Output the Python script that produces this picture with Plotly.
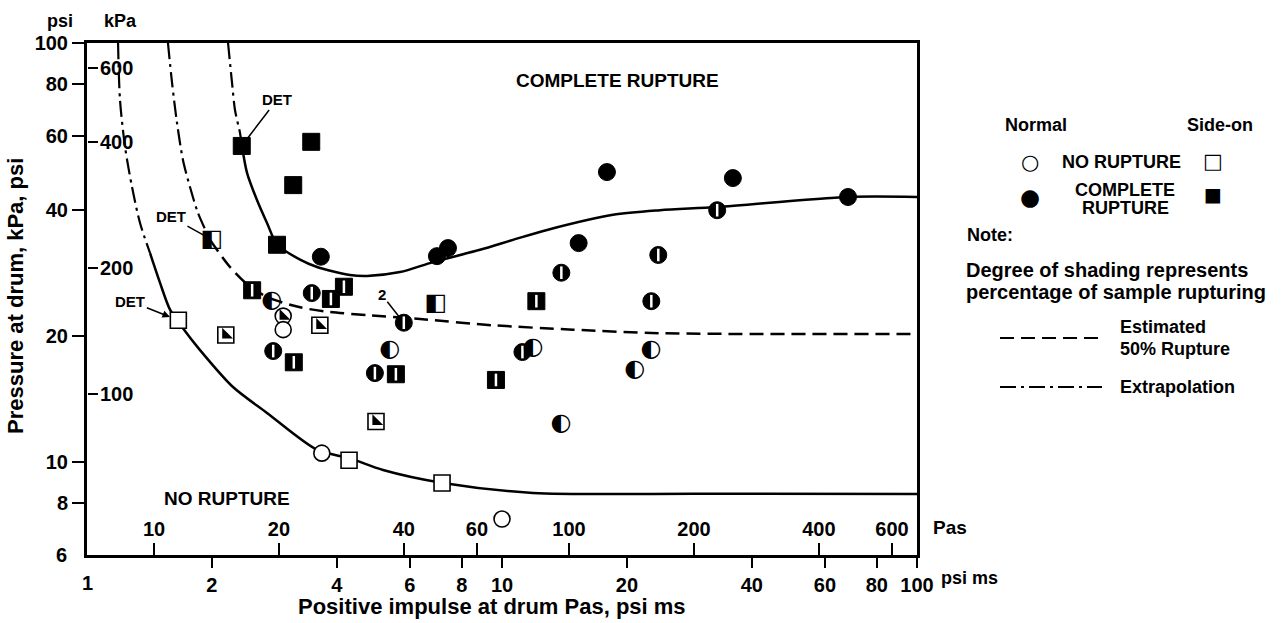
import numpy as np
import plotly.graph_objects as go

# ---------------- data ----------------
# Normal orientation samples (circles): impulse [psi ms], pressure [psi], fraction ruptured
normal_impulse = [3.66, 6.97, 7.41, 17.9, 36.0, 68.2, 33.0, 15.3, 23.8, 13.9, 22.9, 22.9, 20.9,
                  13.9, 11.2, 11.9, 5.8, 5.37, 4.94, 3.48, 2.79, 2.97, 2.97, 2.81, 3.68, 10.0]
normal_pressure = [30.9, 31.0, 32.4, 49.2, 47.6, 42.9, 39.9, 33.3, 31.2, 28.3, 24.2, 18.5, 16.6,
                   12.3, 18.3, 18.7, 21.5, 18.5, 16.3, 25.3, 24.2, 22.3, 20.7, 18.4, 10.5, 7.31]
normal_shading = [1, 1, 1, 1, 1, 1, 0.75, 1, 0.75, 0.75, 0.75, 0.5, 0.5,
                  0.5, 0.75, 0.5, 0.75, 0.5, 0.75, 0.75, 0.5, 0.25, 0, 0.75, 0, 0]

# Side-on orientation samples (squares)
side_impulse = [2.36, 3.47, 3.14, 2.87, 2.00, 2.50, 4.16, 3.87, 6.93, 12.1, 3.64, 2.16,
                3.15, 5.55, 9.67, 4.97, 1.66, 4.28, 7.17]
side_pressure = [56.8, 58.1, 45.8, 33.0, 33.9, 25.7, 26.2, 24.5, 23.8, 24.2, 21.2, 20.1,
                 17.3, 16.2, 15.7, 12.5, 21.8, 10.1, 8.91]
side_shading = [1, 1, 1, 1, 0.5, 0.75, 0.75, 0.75, 0.5, 0.75, 0.25, 0.25,
                0.75, 0.75, 0.75, 0.25, 0, 0, 0]

# Boundary curves
no_rupture_extrap_x = [1.188, 1.201, 1.235, 1.284, 1.342, 1.419]
no_rupture_extrap_y = [100, 73.1, 56.5, 45.3, 37.2, 31.5]
no_rupture_x = [1.419, 1.499, 1.585, 1.694, 1.872, 2.248, 2.715, 3.583, 4.302, 5.168, 7.208, 11.88, 30.0, 100]
no_rupture_y = [31.5, 26.8, 23.1, 21.0, 18.5, 15.1, 13.1, 10.7, 10.2, 9.57, 8.91, 8.44, 8.40, 8.39]

half_extrap_x = [1.567, 1.603, 1.648, 1.703, 1.771, 1.851, 1.979]
half_extrap_y = [100, 80.3, 64.4, 52.6, 45.3, 39.3, 33.9]
half_x = [1.979, 2.211, 2.471, 2.761, 3.262, 3.850, 4.808, 6.345, 9.513, 14.83, 24.03, 100]
half_y = [33.9, 29.2, 26.2, 24.6, 23.4, 22.8, 22.4, 21.95, 21.2, 20.7, 20.3, 20.2]

complete_extrap_x = [2.187, 2.236, 2.273, 2.337, 2.363]
complete_extrap_y = [100, 80.3, 69.2, 61.0, 56.8]
complete_x = [2.363, 2.430, 2.568, 2.715, 2.870, 3.262, 3.583, 4.302, 4.728, 5.678, 6.82, 8.85,
              10.63, 12.84, 18.51, 24.03, 32.97, 67.8, 100]
complete_y = [56.8, 49.0, 42.2, 37.2, 33.1, 30.4, 29.2, 27.95, 27.8, 28.4, 30.0, 32.1,
              33.9, 35.8, 38.9, 39.9, 40.6, 42.9, 42.9]

# Axis ticks
psi_ms_ticks = [1, 2, 4, 6, 8, 10, 20, 40, 60, 80, 100]
pas_ticks = [10, 20, 40, 60, 100, 200, 400, 600]
psi_ticks = [6, 8, 10, 20, 40, 60, 80, 100]
kpa_ticks = [100, 200, 400, 600]
KPA_PER_PSI = 6.894757

# ---------------- figure ----------------
W, H = 1282, 623
L, R, T, B = 87, 917, 43, 555


def paper(px, py):
    return (px - L) / (R - L), (B - py) / (B - T)


circle_glyph = {0.5: "\u25D0"}
square_glyph = {0.5: "\u25E7"}
GLYPH_FONT = "DejaVu Sans"

fig = go.Figure()

solid = dict(color="black", width=2.5)
dashed = dict(color="black", width=2.5, dash="14px,7px")
dashdot = dict(color="black", width=2.2, dash="16px,5px,3px,5px")

for xs, ys, ln in [(no_rupture_extrap_x, no_rupture_extrap_y, dashdot),
                   (no_rupture_x, no_rupture_y, solid),
                   (half_extrap_x, half_extrap_y, dashdot),
                   (half_x, half_y, dashed),
                   (complete_extrap_x, complete_extrap_y, dashdot),
                   (complete_x, complete_y, solid)]:
    fig.add_trace(go.Scatter(x=xs, y=ys, mode="lines", line=dict(shape="spline", smoothing=0.8, **ln),
                             hoverinfo="skip"))


def pick(xs, ys, idx):
    return [xs[i] for i in idx], [ys[i] for i in idx]


def add_points(xs, ys, shade, symbol, size, glyphs):
    dark = [i for i, s in enumerate(shade) if s >= 0.75]
    most = [i for i, s in enumerate(shade) if s == 0.75]
    light = [i for i, s in enumerate(shade) if s <= 0.25]
    low = [i for i, s in enumerate(shade) if s == 0.25]
    half = [i for i, s in enumerate(shade) if s == 0.5]
    # fully / mostly ruptured: solid black marker
    x, y = pick(xs, ys, dark)
    fig.add_trace(go.Scatter(x=x, y=y, mode="markers",
                             marker=dict(symbol=symbol, size=size, color="black",
                                         line=dict(color="black", width=1))))
    # mostly ruptured: white sliver
    x, y = pick(xs, ys, most)
    fig.add_trace(go.Scatter(x=x, y=y, mode="markers",
                             marker=dict(symbol="line-ns", size=9, line=dict(color="white", width=2.5))))
    # no / low rupture: open marker
    x, y = pick(xs, ys, light)
    fig.add_trace(go.Scatter(x=x, y=y, mode="markers",
                             marker=dict(symbol=symbol, size=size - 1, color="white",
                                         line=dict(color="black", width=1.6))))
    # low rupture: black corner
    x, y = pick(xs, ys, low)
    fig.add_trace(go.Scatter(x=x, y=y, mode="markers",
                             marker=dict(symbol="triangle-sw", size=12, color="black",
                                         line=dict(width=0))))
    # half ruptured: half-shaded glyph
    x, y = pick(xs, ys, half)
    fig.add_trace(go.Scatter(x=x, y=y, mode="text",
                             text=[glyphs[shade[i]] for i in half], textposition="middle center",
                             textfont=dict(family=GLYPH_FONT, size=24, color="black")))


add_points(side_impulse, side_pressure, side_shading, "square", 17, square_glyph)
add_points(normal_impulse, normal_pressure, normal_shading, "circle", 17, circle_glyph)

# dummy traces to activate the secondary (SI) axes
fig.add_trace(go.Scatter(x=[], y=[], xaxis="x2", yaxis="y"))
fig.add_trace(go.Scatter(x=[], y=[], xaxis="x", yaxis="y2"))

tickfont = dict(family="Liberation Sans", size=20, color="black", weight="bold")

fig.update_layout(
    width=W, height=H,
    margin=dict(l=L, r=W - R, t=T, b=H - B),
    paper_bgcolor="white", plot_bgcolor="white",
    showlegend=False,
    font=dict(family="Liberation Sans", color="black"),
    xaxis=dict(type="log", range=[0, 2], tickvals=psi_ms_ticks, ticktext=[str(v) for v in psi_ms_ticks],
               ticks="outside", ticklen=10, tickwidth=2, tickcolor="black", ticklabeloverflow="allow",
               showline=True, linewidth=3, linecolor="black", mirror=True,
               showgrid=False, zeroline=False, tickfont=tickfont),
    yaxis=dict(type="log", range=[np.log10(6), 2], tickvals=psi_ticks, ticktext=[str(v) for v in psi_ticks],
               ticks="outside", ticklen=12, tickwidth=2, tickcolor="black", ticklabeloverflow="allow",
               showline=True, linewidth=3, linecolor="black", mirror=True,
               showgrid=False, zeroline=False, tickfont=tickfont),
    xaxis2=dict(type="log", overlaying="x", anchor="free", position=0, side="bottom",
                range=[np.log10(KPA_PER_PSI), np.log10(100 * KPA_PER_PSI)],
                tickvals=pas_ticks, ticktext=[str(v) for v in pas_ticks],
                ticks="inside", ticklen=12, tickwidth=2, tickcolor="black", ticklabelstandoff=4,
                ticklabelposition="inside", showline=False, showgrid=False, zeroline=False,
                tickfont=tickfont),
    yaxis2=dict(type="log", overlaying="y", anchor="free", position=0, side="left",
                range=[np.log10(6 * KPA_PER_PSI), np.log10(100 * KPA_PER_PSI)],
                tickvals=kpa_ticks, ticktext=[str(v) for v in kpa_ticks],
                ticks="inside", ticklen=10, tickwidth=2, tickcolor="black", ticklabelstandoff=3,
                ticklabelposition="inside", showline=False, showgrid=False, zeroline=False,
                tickfont=tickfont),
)

bold = dict(family="Liberation Sans", color="black", weight="bold")
ann = []


def text_at(px, py, s, size, xanchor="center", family="Liberation Sans", **kw):
    xp, yp = paper(px, py)
    f = dict(bold)
    f["family"] = family
    ann.append(dict(x=xp, y=yp, xref="paper", yref="paper", text=s, showarrow=False,
                    xanchor=xanchor, yanchor="middle", font=dict(size=size, **f), **kw))


# corner tick labels (plotly suppresses the ones that sit on the axis corner)
ann.append(dict(x=np.log10(psi_ms_ticks[0]), xref="x", y=paper(0, 583)[1], yref="paper",
                text=str(psi_ms_ticks[0]), showarrow=False, xanchor="center", yanchor="middle",
                font=dict(size=20, **bold)))
ann.append(dict(x=paper(69, 0)[0], xref="paper", y=np.log10(psi_ticks[0]), yref="y",
                text=str(psi_ticks[0]), showarrow=False, xanchor="right", yanchor="middle",
                font=dict(size=20, **bold)))

# axis titles and unit headers
text_at(15, 296, "Pressure at drum, kPa, psi", 22, textangle=-90)
text_at(492, 606, "Positive impulse at drum Pas, psi ms", 22)
text_at(60, 21, "psi", 18)
text_at(120, 21, "kPa", 18)
text_at(939, 578, "psi ms", 18, xanchor="left")
text_at(931, 527, "Pas", 19, xanchor="left")

# region labels
text_at(617, 80, "COMPLETE RUPTURE", 19)
text_at(227, 498, "NO RUPTURE", 19)

# pointer labels
pointers = [("DET", side_impulse[0], side_pressure[0], 35, -46, 0, 8),
            ("DET", side_impulse[4], side_pressure[4], -41, -23, 0, 8),
            ("DET", side_impulse[16], side_pressure[16], -48, -19, 2, 9),
            ("2", normal_impulse[16], normal_pressure[16], -22, -28, 0, 7)]
for s, xv, yv, axp, ayp, head, so in pointers:
    ann.append(dict(x=np.log10(xv), y=np.log10(yv), xref="x", yref="y", text=s,
                    showarrow=True, ax=axp, ay=ayp, arrowhead=head, arrowsize=1, arrowwidth=1.5,
                    arrowcolor="black", standoff=so, font=dict(size=15, **bold)))

# custom legend
text_at(1036, 125, "Normal", 18)
text_at(1220, 125, "Side-on", 18)
text_at(1030, 162, "\u25CB", 21, family=GLYPH_FONT)
text_at(1121, 162, "NO RUPTURE", 18)
text_at(1213, 161, "\u25A1", 21, family=GLYPH_FONT)
text_at(1030, 197, "\u25CF", 23, family=GLYPH_FONT)
text_at(1125, 190, "COMPLETE", 18)
text_at(1125, 208, "RUPTURE", 18)
text_at(1213, 194, "\u25A0", 19, family=GLYPH_FONT)
text_at(965, 235, "Note:", 18, xanchor="left")
text_at(964, 270, "Degree of shading represents", 20, xanchor="left")
text_at(964, 292, "percentage of sample rupturing", 20, xanchor="left")
text_at(1118, 327, "Estimated", 18, xanchor="left")
text_at(1118, 349, "50% Rupture", 18, xanchor="left")
text_at(1118, 387, "Extrapolation", 18, xanchor="left")
fig.update_layout(annotations=ann)

shapes = []
for py, ln in [(338, dashed), (387, dashdot)]:
    x0, y0 = paper(1000, py)
    x1, _ = paper(1102, py)
    shapes.append(dict(type="line", xref="paper", yref="paper", x0=x0, x1=x1, y0=y0, y1=y0,
                       line=dict(color="black", width=2, dash=ln["dash"])))
fig.update_layout(shapes=shapes)

fig.write_html("out.html")
